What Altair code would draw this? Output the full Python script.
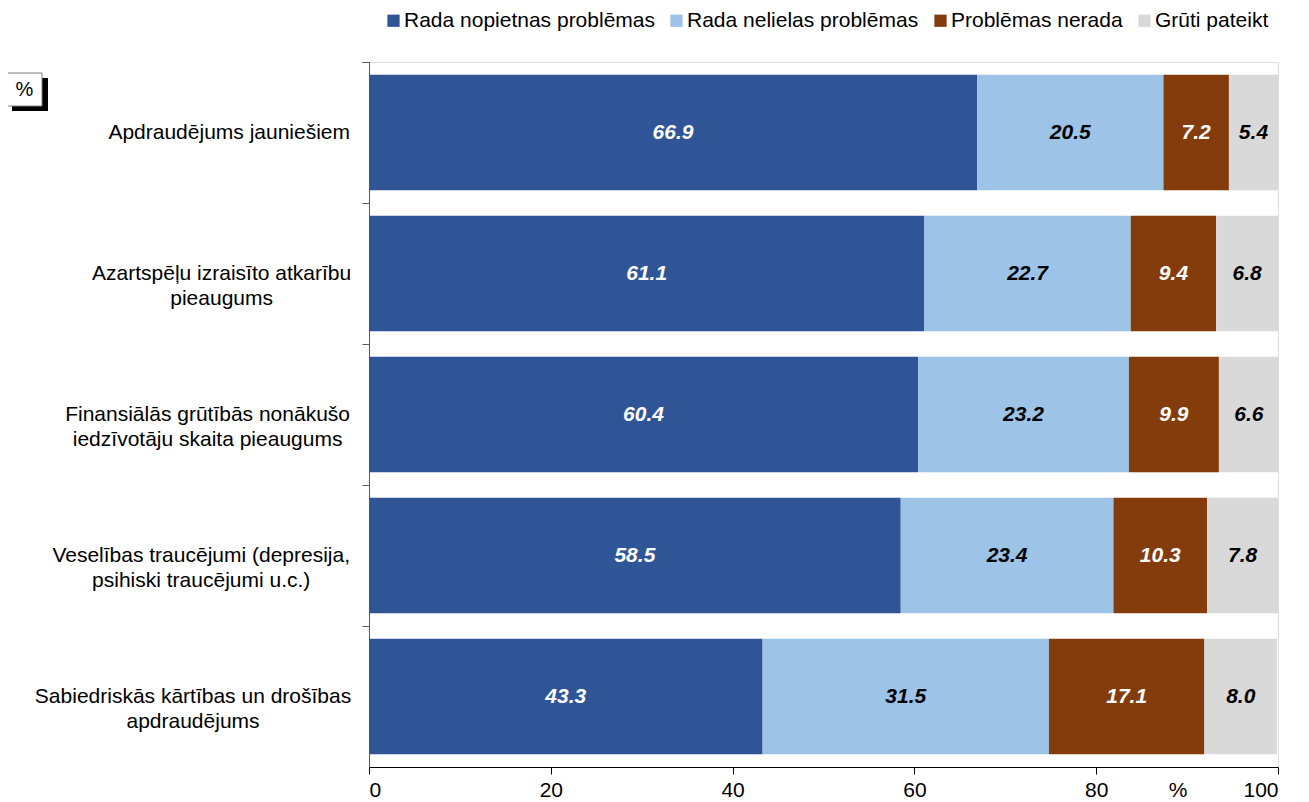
import altair as alt
import pandas as pd

categories = [
    "Apdraudējums jauniešiem",
    "Azartspēļu izraisīto atkarību|pieaugums",
    "Finansiālās grūtībās nonākušo|iedzīvotāju skaita pieaugums",
    "Veselības traucējumi (depresija,|psihiski traucējumi u.c.)",
    "Sabiedriskās kārtības un drošības|apdraudējums",
]
series = ["Rada nopietnas problēmas", "Rada nelielas problēmas", "Problēmas nerada", "Grūti pateikt"]
colors = ["#2F5597", "#9DC3E6", "#843C0C", "#D9D9D9"]
serious = [66.9, 61.1, 60.4, 58.5, 43.3]
minor = [20.5, 22.7, 23.2, 23.4, 31.5]
none_ = [7.2, 9.4, 9.9, 10.3, 17.1]
hard = [5.4, 6.8, 6.6, 7.8, 8.0]
x_ticks = [0, 20, 40, 60, 80, 100]

rows = []
for ci, c in enumerate(categories):
    for si, (s, vals) in enumerate(zip(series, [serious, minor, none_, hard])):
        rows.append({"cat": c, "s": s, "si": si, "v": vals[ci]})
df = pd.DataFrame(rows)
cat_df = pd.DataFrame({"cat": categories})

FONT = "Liberation Sans"
FS = 21
W, H = 909, 705
PI, PO = 0.18, 0.09
step = H / (len(categories) - PI + 2 * PO)
tick_off = -PI * step / 2

y_scale = alt.Scale(paddingInner=PI, paddingOuter=PO)

y_enc = alt.Y("cat:N", sort=categories, scale=y_scale,
              axis=alt.Axis(title=None, labels=False,
                            ticks=True, tickSize=7, tickColor="#595959", bandPosition=0,
                            tickOffset=tick_off,
                            domainColor="#595959", tickExtra=True))

base = alt.Chart(df).transform_stack(
    stack="v", groupby=["cat"], as_=["x0", "x1"],
    sort=[alt.SortField("si", order="ascending")]
).transform_calculate(mid="(datum.x0 + datum.x1) / 2")

bars = base.mark_bar(stroke=None).encode(
    y=y_enc,
    x=alt.X("x0:Q", scale=alt.Scale(domain=[0, 100], nice=False),
            axis=alt.Axis(title=None, values=x_ticks, labelFont=FONT, labelFontSize=FS,
                          labelColor="black", tickSize=7, tickColor="black",
                          domainColor="black", grid=False, labelPadding=5)),
    x2="x1:Q",
    color=alt.Color("s:N", sort=series, scale=alt.Scale(domain=series, range=colors),
                    legend=alt.Legend(title=None, orient="none", direction="horizontal",
                                      legendX=14, legendY=-52, symbolType="square",
                                      symbolSize=150, symbolStrokeWidth=0,
                                      labelFont=FONT, labelFontSize=FS, labelColor="black",
                                      columnPadding=11, labelOffset=0, labelLimit=400)),
)

labels = base.mark_text(font=FONT, fontSize=FS, fontWeight="bold", fontStyle="italic").encode(
    y=alt.Y("cat:N", sort=categories),
    x=alt.X("mid:Q"),
    text=alt.Text("v:Q", format=".1f"),
    color=alt.condition("datum.si == 0 || datum.si == 2", alt.value("white"), alt.value("black")),
)


# approximate rendered width of a line of text (Arial-like metrics, in em)
def width_expr(f):
    def cnt(p):
        return f"(length(datum.{f}) - length(replace(datum.{f}, regexp('{p}', 'g'), '')))"
    return (f"{FS} * (0.556 * length(datum.{f}) - 0.334 * {cnt('[ijlīļ]')}"
            f" - 0.278 * {cnt('[tf ,.]')} - 0.223 * {cnt('[r()]')}"
            f" + 0.277 * {cnt('[mM]')} - 0.056 * {cnt('[sšckzvy]')}"
            f" + 0.111 * {cnt('[A-Z]')})")


# category labels: block right-aligned near the axis, lines centred within the block
cat_labels = alt.Chart(cat_df).transform_calculate(
    l1="split(datum.cat, '|')[0]",
    l2="split(datum.cat, '|')[1] || ''",
).transform_calculate(
    w1=width_expr("l1"),
    w2=width_expr("l2"),
).transform_calculate(
    px="-(19 + max(datum.w1, datum.w2) / 2)",
).mark_text(font=FONT, fontSize=FS, align="center", baseline="middle",
            lineBreak="|", lineHeight=25, color="black").encode(
    y=alt.Y("cat:N", sort=categories, scale=y_scale),
    x=alt.X("px:Q", scale=None, axis=None),
    text="cat:N",
)

unit_df = pd.DataFrame({"x": [89], "t": ["%"]})
unit = alt.Chart(unit_df).mark_text(font=FONT, fontSize=FS, baseline="top").encode(
    x="x:Q", y=alt.value(H + 13), text="t:N")

box_df = pd.DataFrame({"t": ["%"]})
shadow = alt.Chart(box_df).mark_rect(color="black").encode(
    x=alt.value(-357), x2=alt.value(-321), y=alt.value(16), y2=alt.value(49))
box = alt.Chart(box_df).mark_rect(fill="white", stroke="#7f7f7f", strokeWidth=1).encode(
    x=alt.value(-362), x2=alt.value(-327), y=alt.value(11), y2=alt.value(44))
box_text = alt.Chart(box_df).mark_text(font=FONT, fontSize=20).encode(
    x=alt.value(-344.5), y=alt.value(28), text="t:N")

main = alt.layer(bars, labels, unit)

chart = alt.layer(main, cat_labels, shadow, box, box_text).resolve_scale(
    x="independent"
).properties(
    width=W, height=H,
    autosize=alt.AutoSizeParams(type="none"),
    padding={"left": 361, "top": 54, "right": 23, "bottom": 36},
).configure_view(stroke=None).configure(background="white")

chart.save("out.html", embed_options={"renderer": "svg", "actions": False})
